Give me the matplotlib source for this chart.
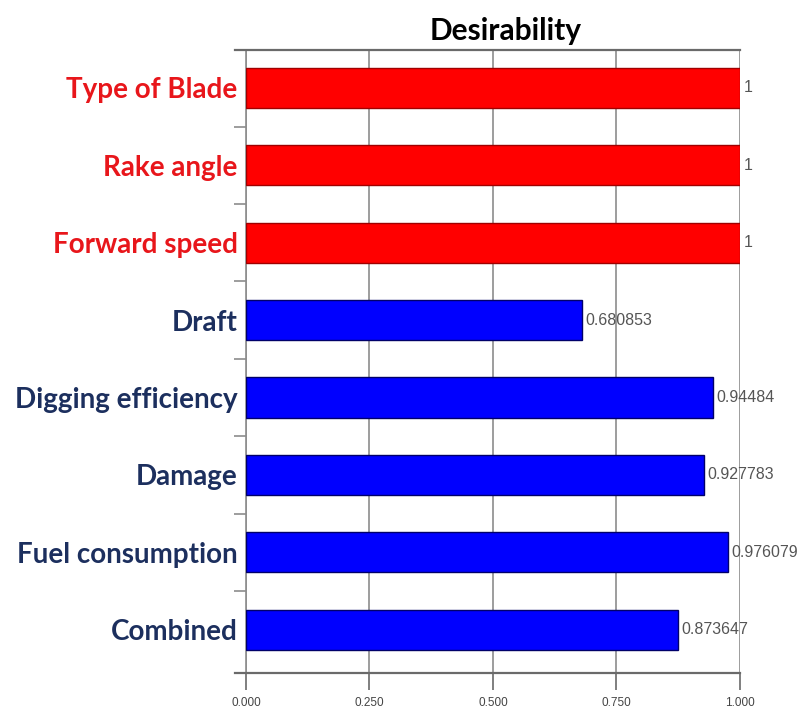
import matplotlib
matplotlib.use("Agg")
import matplotlib.pyplot as plt
from matplotlib.lines import Line2D
import numpy as np

categories = ["Type of Blade", "Rake angle", "Forward speed", "Draft",
              "Digging efficiency", "Damage", "Fuel consumption", "Combined"]
values = [1, 1, 1, 0.680853, 0.94484, 0.927783, 0.976079, 0.873647]
value_labels = ["1", "1", "1", "0.680853", "0.94484", "0.927783", "0.976079", "0.873647"]
is_factor = [True, True, True, False, False, False, False, False]
xticks = [0.0, 0.25, 0.5, 0.75, 1.0]
xtick_labels = ["0.000", "0.250", "0.500", "0.750", "1.000"]

fig = plt.figure(figsize=(8.01, 7.13), dpi=100)
ax = fig.add_axes([246/801, 40/713, (740-246)/801, (673-50)/713])

y = np.arange(len(categories))
colors = ["#ff0000" if f else "#0000ff" for f in is_factor]
edges = ["#a00000" if f else "#00006a" for f in is_factor]
ax.barh(y, values, height=0.52, color=colors, edgecolor=edges, linewidth=1.0, zorder=3)

ax.set_xlim(0, 1.0)
ax.set_ylim(7.56, -0.49)

for xv in xticks:
    ax.axvline(xv, color="#8c8c8c", linewidth=1.2, zorder=1)

for yi, v, lab in zip(y, values, value_labels):
    ax.text(v + 0.007, yi, lab, va="center", ha="left", fontsize=11.5,
            color="#555555", family=["Liberation Sans Narrow", "Liberation Sans"],
            zorder=4)

ax.set_yticks(y)
ax.set_yticklabels(categories)
for t, f in zip(ax.get_yticklabels(), is_factor):
    t.set_color("#e8161b" if f else "#1c2f5e")
    t.set_fontweight("bold")
    t.set_fontsize(20)
    t.set_family("Lato")
ax.tick_params(axis="y", length=0, pad=6)
ax.set_yticks(np.arange(len(categories) - 1) + 0.5, minor=True)
ax.tick_params(axis="y", which="minor", length=9, width=1.2, color="#8c8c8c")

ax.set_xticks(xticks)
ax.set_xticklabels(xtick_labels)
ax.tick_params(axis="x", length=12, width=1.2, color="#6a6a6a", pad=5,
               labelsize=8.5, labelcolor="#444444")
for t in ax.get_xticklabels():
    t.set_family(["Liberation Sans Narrow", "Liberation Sans"])

for s in ["top", "right"]:
    ax.spines[s].set_visible(False)
ax.spines["left"].set_color("#8c8c8c")
ax.spines["left"].set_linewidth(1.2)
ax.spines["bottom"].set_visible(False)

for yy in [0.0, 1.0]:
    ax.add_line(Line2D([-0.022, 1.0], [yy, yy], transform=ax.transAxes,
                       color="#6a6a6a", linewidth=1.6, clip_on=False, zorder=5))

ax.set_title("Desirability", fontsize=21.5, fontweight="bold", family="Lato",
             pad=7, x=0.525)

fig.savefig("out.png", dpi=100)
